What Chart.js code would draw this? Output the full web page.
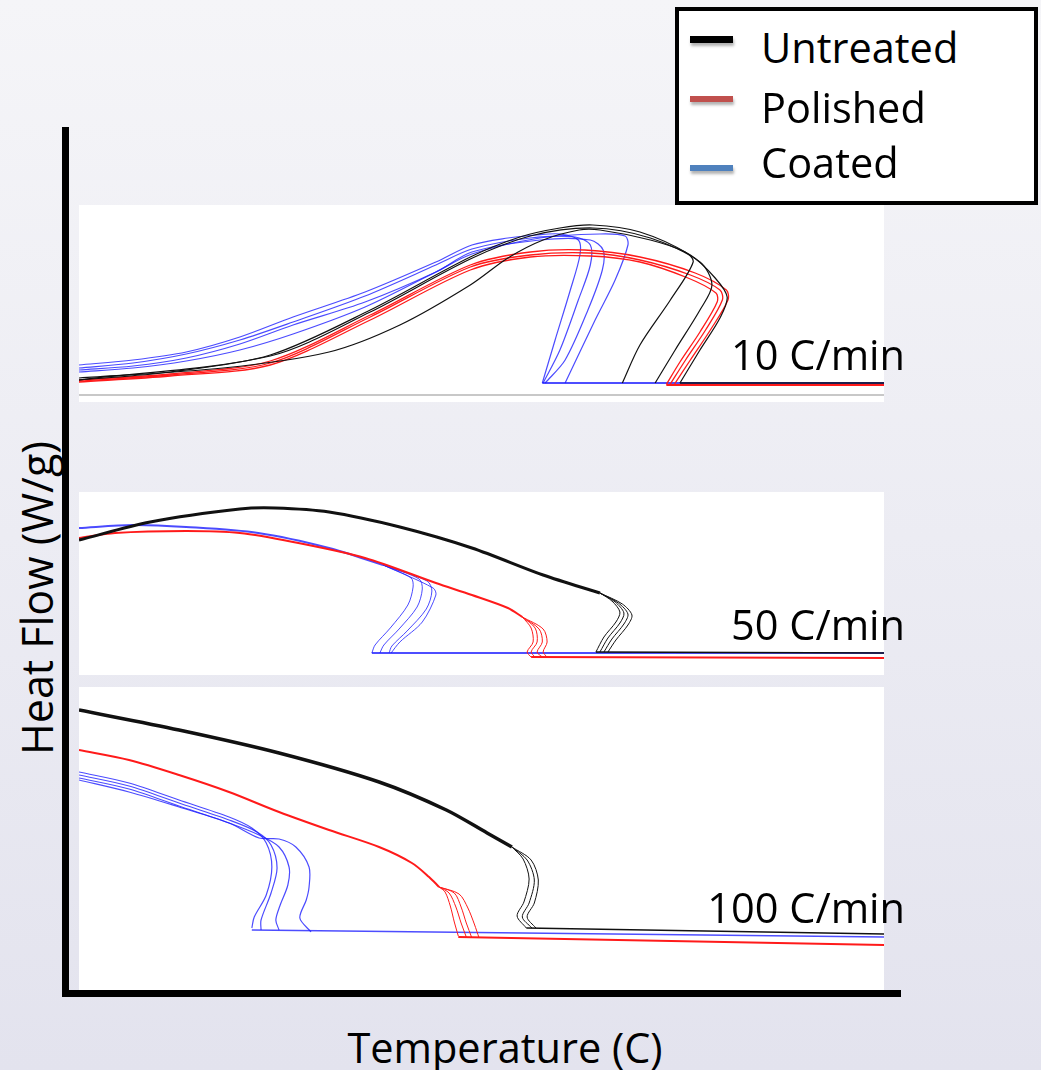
<!DOCTYPE html>
<html>
<head>
<meta charset="utf-8">
<script src="https://cdn.jsdelivr.net/npm/chart.js@4.4.1/dist/chart.umd.min.js"></script>
<style>
  body {
    margin: 0;
    width: 1041px;
    height: 1070px;
    overflow: hidden;
    position: relative;
    font-family: 'Open Sans', 'Noto Sans', sans-serif;
    background: linear-gradient(to bottom, #f5f5f8 0%, #ececf3 50%, #e3e3ee 100%);
  }
  canvas { position: absolute; }
  .panel { background: #fff; }
  .txt { position: absolute; font-size: 41.5px; line-height: 40px; color: #000; white-space: nowrap; }
  .rate { right: 136px; }
  #legendBox {
    position: absolute; left: 675px; top: 7px; width: 363px; height: 198px;
    box-sizing: border-box; border: 4px solid #000; background: #fff;
  }
  .swatch { position: absolute; left: 690px; width: 43px; height: 6px; box-shadow: 1px 3px 3px rgba(0,0,0,0.3); }
</style>
</head>
<body>
<canvas id="axes" width="1041" height="1070" style="left:0;top:0;z-index:3"></canvas>
<canvas id="panel10" class="panel" width="805" height="197" style="left:79px;top:205px"></canvas>
<canvas id="panel50" class="panel" width="805" height="183" style="left:79px;top:492px"></canvas>
<canvas id="panel100" class="panel" width="805" height="303" style="left:79px;top:687px"></canvas>

<div class="txt rate" style="top:334px;z-index:4">10 C/min</div>
<div class="txt rate" style="top:604px;z-index:4">50 C/min</div>
<div class="txt rate" style="top:887px;z-index:4">100 C/min</div>

<div class="txt" style="left:505px;top:1027px;transform:translateX(-50%)">Temperature (C)</div>
<div class="txt" style="left:37px;top:598px;font-size:43px;transform:translate(-50%,-50%) rotate(-90deg)">Heat Flow (W/g)</div>

<div id="legendBox"></div>
<div class="swatch" style="top:36px;height:7px;background:#000"></div>
<div class="swatch" style="top:96px;background:#c0504d"></div>
<div class="swatch" style="top:165px;background:#4f81bd"></div>
<div class="txt" style="left:761px;top:27px">Untreated</div>
<div class="txt" style="left:761px;top:87px">Polished</div>
<div class="txt" style="left:761px;top:142px">Coated</div>

<script>
// temperature runs from 0 to X_MAX in every panel, heat flow in arbitrary units
const X_MAX = 100.6;
const legendLabels = ['Untreated', 'Polished', 'Coated'];
const seriesColors = ['#111111', '#ff1a1a', 'rgba(30,30,255,0.8)'];
const baseColors = ['#111111', '#ff1a1a', '#4d4dff'];

// ---- 10 C/min ----
const p1Grid = [[0, 0.35], [100.6, 0.35]];
const p1Untreated = [
  [[0,1.1],[11.4,1.5],[23.9,2.35],[36.4,4.6],[48.9,7.25],[55.1,8.25],[60.1,8.7],[64.2,8.85],[70.1,8.5],[76.4,7.35],[79.5,6.2],[81,5.25],[80.1,4.2],[77.6,2.6],[75.1,0.95]],
  [[0,1.2],[18,1.7],[31.25,2.5],[40.1,3.85],[48.9,5.85],[53.6,7.2],[58,8.1],[62.5,8.6],[65.1,8.6],[71.4,8.1],[75.75,7.5],[76.75,7.0],[73.9,5.1],[70.1,2.85],[67.9,0.95]],
  [[0,1.1],[23.9,2.3],[36.4,4.5],[48.9,7.15],[56.4,8.3],[64.2,8.7],[71.4,8.2],[77.6,7.0],[79.1,5.85],[77.6,4.6],[74.5,2.6],[72,0.95]]
];
const p1Polished = [
  [[0,1.05],[11.4,1.35],[23.9,1.95],[36.4,4.25],[48.9,6.75],[56.4,7.35],[63.9,7.45],[70.1,7.1],[76.4,6.35],[80.1,5.6],[80.4,5.1],[78.3,3.6],[75.8,2.1],[73.9,0.9]],
  [[0,1.0],[11.4,1.3],[23.9,1.85],[36.4,4.1],[48.9,6.6],[56.4,7.25],[63.9,7.3],[70.1,7.0],[76.1,6.2],[79.6,5.45],[79.75,5.0],[77.6,3.5],[75.1,2.0],[73.4,0.88]],
  [[0,1.1],[11.4,1.4],[23.9,2.05],[36.4,4.35],[48.9,6.85],[56.4,7.5],[63.2,7.6],[70.1,7.25],[77,6.45],[80.9,5.6],[81.1,5.1],[78.9,3.6],[76.4,2.1],[74.4,0.88]]
];
const p1Coated = [
  [[0,1.85],[6.75,2.1],[13.4,2.5],[20.1,3.25],[26.75,4.25],[35.75,5.5],[44.6,7.0],[49.1,7.85],[53.6,8.2],[57.1,8.35],[60.1,8.4],[62.4,8.1],[62.6,7.35],[61.4,5.6],[59.5,3.1],[57.9,0.95]],
  [[0,1.7],[6.75,1.95],[13.4,2.4],[20.1,3.1],[26.75,4.0],[35.75,5.3],[44.6,6.85],[49.1,7.65],[56.4,8.2],[62,8.25],[63.9,7.85],[63.9,6.85],[62.4,5.1],[60.1,2.6],[58,0.95]],
  [[0,1.6],[6.75,1.8],[13.4,2.2],[20.1,2.9],[26.75,3.85],[35.75,5.0],[44.6,6.5],[49.1,7.5],[57.6,8.1],[63.9,8.1],[65.5,7.6],[65.4,6.6],[63.6,4.6],[60.75,2.1],[58.25,0.95]],
  [[0,1.5],[6.75,1.7],[13.4,2.05],[20.1,2.6],[26.75,3.4],[35.75,4.75],[44.6,6.5],[49.1,7.4],[57.6,8.2],[65.1,8.4],[68.25,8.3],[68.6,7.85],[67,6.1],[64.5,4.1],[60.75,0.95]]
];
const p1Baselines = [
  [[75.1,0.95],[100.6,0.95]],
  [[73.4,0.85],[100.6,0.85]],
  [[57.9,0.95],[100.6,0.95]]
];

// ---- 50 C/min ----
const p2UntreatedBody = [[0,6.75],[8.9,7.65],[20.1,8.3],[24.5,8.35],[31.25,8.15],[40.1,7.4],[49.1,6.35],[58,5.0],[65.1,4.1]];
const p2UntreatedDrops = [
  [[67,3.65],[68.1,3.1],[67.6,2.6],[66.1,1.85],[65.1,1.15]],
  [[67.4,3.6],[68.6,3.05],[68.1,2.55],[66.6,1.8],[65.6,1.15]],
  [[66.6,3.7],[67.6,3.15],[67.1,2.65],[65.6,1.9],[64.6,1.15]],
  [[67.9,3.55],[69.1,3.0],[68.6,2.5],[67.1,1.75],[66.1,1.15]]
];
const p2PolishedBody = [[0,6.85],[4.5,7.1],[13.4,7.2],[20.1,7.1],[26.75,6.65],[35.75,5.85],[44.6,4.6],[49.1,4.0],[53.6,3.35],[55.4,2.9]];
const p2PolishedDrops = [
  [[56.5,2.35],[56.75,1.65],[56,1.15],[56.5,0.9]],
  [[57,2.35],[57.25,1.65],[56.5,1.15],[57,0.9]],
  [[57.5,2.3],[57.9,1.65],[57.25,1.15],[57.9,0.9]],
  [[58,2.3],[58.5,1.65],[58,1.15],[58.5,0.9]]
];
const p2CoatedBody = [[0,7.35],[6.75,7.5],[13.4,7.4],[22.4,7.1],[31.25,6.35],[38,5.5]];
const p2CoatedDrops = [
  [[41.5,4.85],[41.75,4.4],[41.1,3.5],[38.9,2.35],[37,1.5],[36.6,1.1]],
  [[42.5,4.8],[42.9,4.3],[42.25,3.4],[40,2.3],[38.1,1.5],[37.6,1.1]],
  [[43.5,4.7],[44.1,4.2],[43.4,3.3],[41,2.2],[39.1,1.45],[38.75,1.1]],
  [[44.25,4.35],[44.6,4.0],[42.9,2.65],[40.1,1.65],[39,1.1]]
];
const p2Baselines = [
  [[64.6,1.15],[100.6,1.1]],
  [[56.5,0.9],[100.6,0.85]],
  [[36.6,1.1],[100.6,1.1]]
];

// ---- 100 C/min ----
const p3UntreatedBody = [[0,14],[12.5,13],[25,11.85],[37.5,10.4],[45.9,9.0],[51,7.85],[54.1,7.15]];
const p3UntreatedDrops = [
  [[56,6.5],[56.9,5.5],[56.25,4.35],[55.4,3.65],[56.6,3.1]],
  [[56.5,6.5],[57.4,5.5],[56.9,4.35],[56,3.65],[57.1,3.1]],
  [[55.5,6.55],[56.25,5.55],[55.6,4.4],[54.75,3.7],[55.9,3.1]]
];
const p3PolishedBody = [[0,12],[6.25,11.5],[12.5,10.75],[18.75,9.9],[25,8.9],[31.25,8.0],[37.5,7.15],[41.6,6.35],[43.75,5.65],[45,5.15]];
const p3PolishedDrops = [
  [[46.25,4.85],[47.1,4.15],[47.75,3.35],[48.4,2.65]],
  [[46.9,4.85],[47.75,4.15],[48.4,3.35],[49.1,2.6]],
  [[45.75,4.9],[46.4,4.2],[46.9,3.4],[47.4,2.7]],
  [[47.5,4.8],[48.6,4.1],[49.4,3.3],[50,2.6]]
];
const p3Coated = [
  [[0,10.9],[6.25,10.35],[12.5,9.5],[18.75,8.65],[21.6,8.1],[23.4,7.35],[24.1,6.15],[23.4,4.75],[21.9,3.65],[21.6,3.1]],
  [[0,10.75],[6.25,10.2],[12.5,9.35],[18.75,8.5],[22.25,7.9],[24,7.25],[24.75,6.1],[24,4.85],[22.75,3.5],[22.75,3.0]],
  [[0,10.6],[6.25,10.05],[12.5,9.2],[18.75,8.35],[22.5,7.75],[25,7.15],[26.25,6.15],[26.1,5.25],[25.1,4.2],[24.6,3.5],[25,3.0]],
  [[0,10.5],[6.25,9.9],[12.5,9.15],[18.75,8.35],[22.5,7.6],[25,7.55],[27.1,7.15],[28.75,6.15],[28.75,5.15],[28.4,4.5],[27.6,3.6],[29,2.9]]
];
const p3Baselines = [
  [[55.9,3.1],[100.6,2.8]],
  [[47.4,2.65],[100.6,2.25]],
  [[21.6,3.0],[100.6,2.65]]
];

function line(points, color, width, tension = 0.3) {
  return {
    data: points.map(([x, y]) => ({ x, y })),
    showLine: true,
    borderColor: color,
    borderWidth: width,
    pointRadius: 0,
    tension,
    fill: false,
  };
}

// a shared body plus one thin drop per run, each drop starts where the body ends
function bodyAndDrops(body, drops, color, bodyWidth) {
  const last = body[body.length - 1];
  return [line(body, color, bodyWidth), ...drops.map((d) => line([last, ...d], color, 1))];
}

function panelChart(id, yMax, datasets) {
  return new Chart(document.getElementById(id), {
    type: 'scatter',
    data: { datasets },
    options: {
      responsive: false,
      animation: false,
      layout: { padding: 0 },
      plugins: { legend: { display: false }, tooltip: { enabled: false } },
      scales: {
        x: { type: 'linear', min: 0, max: X_MAX, display: false },
        y: { type: 'linear', min: 0, max: yMax, display: false },
      },
    },
  });
}

const [black, red, blue] = seriesColors;

panelChart('panel10', 9.85, [
  line(p1Grid, '#c8c8c8', 2, 0),
  line(p1Baselines[0], baseColors[0], 1.5, 0),
  ...p1Untreated.map((r) => line(r, black, 1.2)),
  ...p1Polished.map((r) => line(r, red, 1.3)),
  ...p1Coated.map((r) => line(r, blue, 1.2)),
  line(p1Baselines[1], baseColors[1], 2, 0),
  line(p1Baselines[2], baseColors[2], 2, 0),
]);

panelChart('panel50', 9.15, [
  line(p2Baselines[0], baseColors[0], 1.5, 0),
  ...bodyAndDrops(p2UntreatedBody, p2UntreatedDrops, black, 3),
  ...bodyAndDrops(p2PolishedBody, p2PolishedDrops, red, 2),
  line(p2Baselines[1], baseColors[1], 1.8, 0),
  ...bodyAndDrops(p2CoatedBody, p2CoatedDrops, blue, 2),
  line(p2Baselines[2], baseColors[2], 1.8, 0),
]);

panelChart('panel100', 15.15, [
  ...bodyAndDrops(p3UntreatedBody, p3UntreatedDrops, black, 3.5),
  line(p3Baselines[0], baseColors[0], 1.5, 0),
  ...bodyAndDrops(p3PolishedBody, p3PolishedDrops, red, 2),
  line(p3Baselines[1], baseColors[1], 2, 0),
  ...p3Coated.map((r) => line(r, blue, 1.2)),
  line(p3Baselines[2], baseColors[2], 1.5, 0),
]);

// outer axes: only the two thick border lines, no ticks
const axisOpts = {
  type: 'linear',
  min: 0,
  max: 1,
  ticks: { display: false },
  grid: { display: false, drawTicks: false },
  border: { display: true, color: '#000', width: 7 },
};
new Chart(document.getElementById('axes'), {
  type: 'scatter',
  data: { datasets: [] },
  options: {
    responsive: false,
    animation: false,
    layout: { padding: { left: 65, top: 130, right: 141, bottom: 77 } },
    plugins: { legend: { display: false }, tooltip: { enabled: false } },
    scales: { x: axisOpts, y: axisOpts },
  },
});
</script>
</body>
</html>
